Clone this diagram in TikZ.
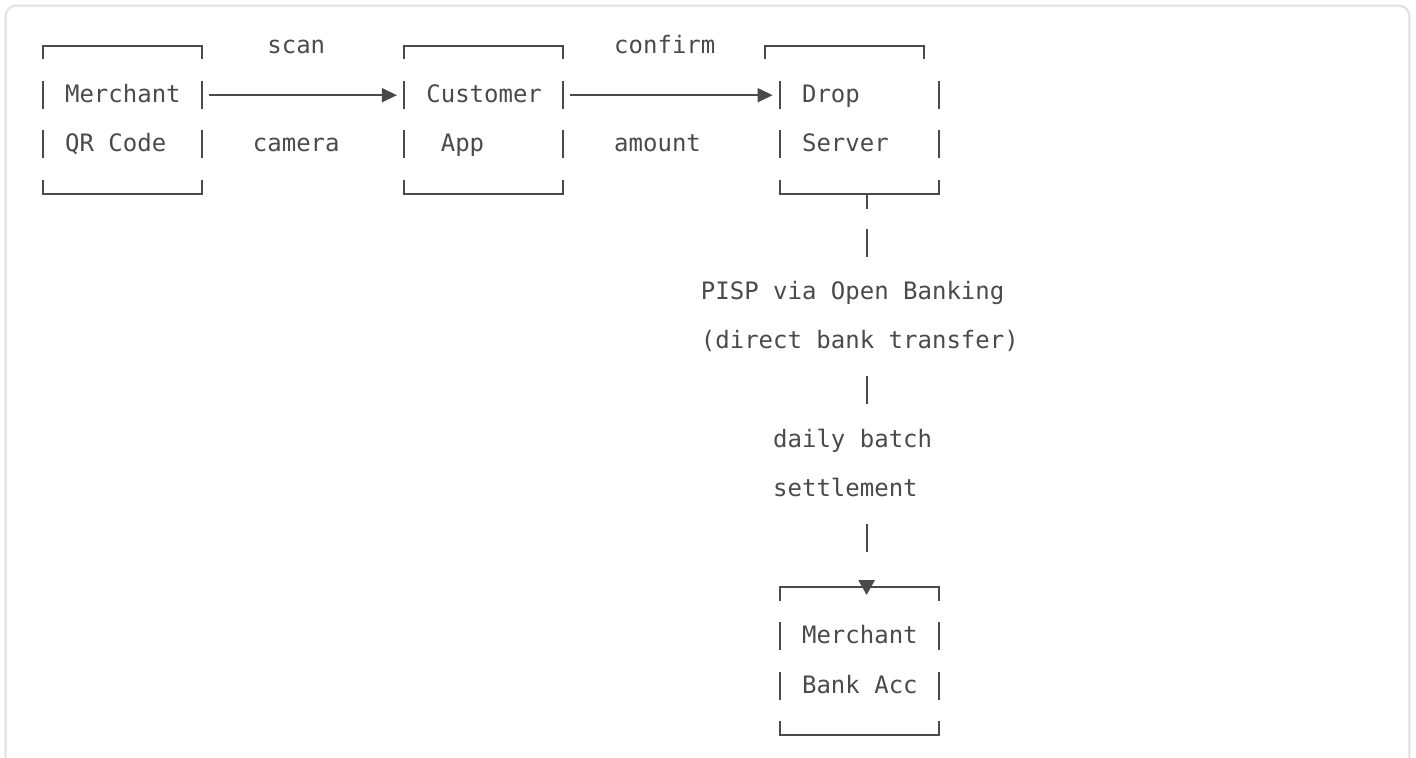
\documentclass[tikz,border=0pt]{standalone}
\usepackage{fontspec}
\usepackage{xcolor}
\usetikzlibrary{arrows.meta}

\newfontfamily\monofont{DejaVu Sans Mono}
\definecolor{ink}{HTML}{4A4A4A}
\definecolor{rim}{HTML}{E1E1E1}

\tikzset{
  lbl/.style={font=\monofont\fontsize{12pt}{14pt}\selectfont, text=ink, inner sep=0pt, anchor=base west},
  box/.style={minimum width=79.5pt, minimum height=73.8pt, inner sep=0pt, outer sep=0pt},
  wire/.style={draw=ink, line width=1pt},
  tip/.style={-{Triangle[length=7.6pt,width=7pt]}},
  downtip/.style={-{Triangle[length=7.4pt,width=8pt]}}
}

\begin{document}
\begin{tikzpicture}[x=0.5pt,y=-0.5pt]
        \useasboundingbox (0,0) rectangle (1416,758);

        % frame of the code block, open at the bottom
        \draw[rim,line width=1pt,rounded corners=5pt] (5.7,790) -- (5.7,5.7) -- (1409.3,5.7) -- (1409.3,790);

        % boxes
        \node[box] (qr) at (122.5,119.8) {};
        \node[box] (app) at (483.7,119.8) {};
        \node[box] (drop) at (859.4,119.8) {};
        \node[box] (bank) at (859.4,661) {};

        \foreach \b in {qr,app,drop,bank} {
            \draw[wire] (\b.north west) ++(0,35.2) -- ++(0,28) ++(0,21.2) -- ++(0,28);
            \draw[wire] (\b.north east) ++(0,35.2) -- ++(0,28) ++(0,21.2) -- ++(0,28);
            \draw[wire] (\b.south west) ++(0,-13.5) -- (\b.south west) -- (\b.south east) -- ++(0,-13.5);
        }
        \foreach \b in {qr,app,bank}
            \draw[wire] (\b.north west) ++(0,13.5) -- (\b.north west) -- (\b.north east) -- ++(0,13.5);
        % top of the server box sits one column to the left
        \draw[wire] ([xshift=-7.225pt]drop.north west) ++(0,13.5) -- ([xshift=-7.225pt]drop.north west)
            -- ([xshift=-7.225pt]drop.north east) -- ++(0,13.5);

        % box texts
        \node[lbl] (qr1) at (64.7,102.7) {Merchant};
        \node[lbl] (qr2) at (64.7,151.9) {QR Code};
        \node[lbl] (app1) at (425.95,102.7) {Customer};
        \node[lbl] (app2) at (440.4,151.9) {App};
        \node[lbl] (drop1) at (801.65,102.7) {Drop};
        \node[lbl] (drop2) at (801.65,151.9) {Server};
        \node[lbl] (bank1) at (801.65,643.9) {Merchant};
        \node[lbl] (bank2) at (801.65,693.1) {Bank Acc};

        % scan step
        \draw[wire,tip] ([xshift=3.6pt,yshift=12.3pt]qr.east) -- ([xshift=-3.6pt,yshift=12.3pt]app.west);
        \node[lbl] (scan) at (267.0,53.5) {scan};
        \node[lbl] (camera) at (252.55,151.9) {camera};

        % confirm step
        \draw[wire,tip] ([xshift=3.6pt,yshift=12.3pt]app.east) -- ([xshift=-3.6pt,yshift=12.3pt]drop.west);
        \node[lbl] (confirm) at (613.8,53.5) {confirm};
        \node[lbl] (amount) at (613.8,151.9) {amount};

        % payout down to the merchant's bank
        \draw[wire,downtip] ([xshift=3.6pt]drop.south) -- ++(0,15) ++(0,20.2) -- ++(0,28)
            ++(0,119.6) -- ++(0,28) ++(0,119.6) -- ++(0,28)
            ++(0,28) -- ([xshift=3.6pt,yshift=-3.9pt]bank.north);
        \node[lbl] (pisp) at (700.5,299.5) {PISP via Open Banking};
        \node[lbl] (xfer) at (700.5,348.7) {(direct bank transfer)};
        \node[lbl] (daily) at (772.75,447.1) {daily batch};
        \node[lbl] (settle) at (772.75,496.3) {settlement};
\end{tikzpicture}
\end{document}
